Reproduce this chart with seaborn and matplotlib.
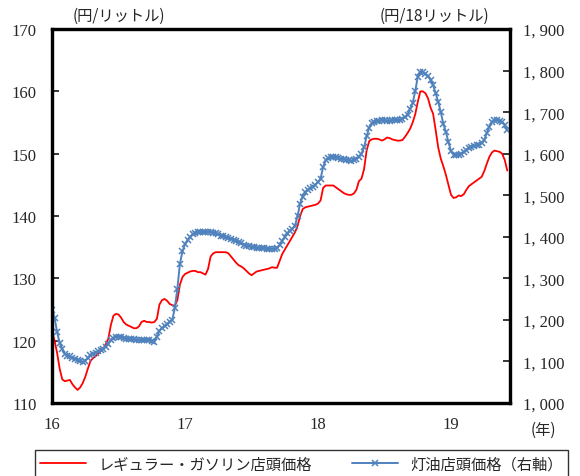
import numpy as np
import pandas as pd
import matplotlib
matplotlib.use("Agg")
import matplotlib.pyplot as plt
import seaborn as sns

sns.set_style("white")
plt.rcParams['font.family'] = ['Liberation Serif', 'DejaVu Serif']

# 週次データ（2016年初～2019年半ば）
gasoline = [
    121.5, 120.0, 118.0, 115.5, 113.8, 113.5, 113.6, 113.7, 113.0, 112.5,
    112.1, 112.5, 113.2, 114.2, 115.5, 116.7, 117.2, 117.5, 117.9, 118.3,
    118.7, 119.4, 120.3, 122.5, 124.0, 124.3, 124.2, 123.7, 123.0, 122.6,
    122.4, 122.2, 122.0, 122.0, 122.3, 123.0, 123.2, 123.0, 123.0, 122.9,
    123.0, 123.5, 125.8, 126.5, 126.7, 126.4, 125.9, 125.7, 125.6, 126.5,
    129.0, 130.2, 130.7, 130.9, 131.1, 131.2, 131.2, 131.0, 131.0, 130.8,
    130.6, 131.5, 133.5, 134.0, 134.2, 134.2, 134.2, 134.2, 134.2, 134.0,
    133.5, 133.0, 132.5, 132.1, 131.9, 131.6, 131.2, 130.8, 130.5, 130.8,
    131.1, 131.2, 131.3, 131.4, 131.5, 131.6, 131.8, 131.7, 131.7, 132.8,
    133.9, 134.6, 135.3, 136.0, 136.7, 137.4, 138.4, 140.0, 141.1, 141.4,
    141.5, 141.6, 141.7, 141.8, 142.0, 142.5, 144.5, 144.9, 144.9, 144.9,
    144.9, 144.6, 144.3, 144.0, 143.7, 143.5, 143.4, 143.4, 143.6, 144.2,
    145.6, 146.0, 147.5, 150.5, 152.0, 152.3, 152.4, 152.4, 152.3, 152.1,
    152.3, 152.6, 152.5, 152.3, 152.2, 152.1, 152.1, 152.2, 152.7, 153.3,
    154.0, 155.0, 156.3, 158.3, 160.0, 160.0, 159.7, 158.9, 157.4, 156.4,
    153.8, 151.0, 149.2, 148.0, 146.6, 145.0, 143.4, 142.9, 143.0, 143.3,
    143.2, 143.5, 144.2, 144.8, 145.1, 145.4, 145.7, 146.0, 146.3, 147.2,
    148.4, 149.5, 150.2, 150.5, 150.4, 150.3, 150.0, 149.0, 147.3,
]
kerosene = [
    1225, 1205, 1170, 1145, 1130, 1118, 1114, 1112, 1108, 1106,
    1103, 1100, 1098, 1102, 1108, 1115, 1119, 1121, 1124, 1127,
    1131, 1136, 1143, 1151, 1156, 1159, 1160, 1160, 1157, 1155,
    1154, 1153, 1153, 1152, 1152, 1152, 1152, 1152, 1151, 1150,
    1148, 1160, 1174, 1180, 1185, 1190, 1195, 1200, 1228, 1275,
    1335, 1365, 1382, 1392, 1400, 1406, 1409, 1411, 1411, 1412,
    1412, 1412, 1412, 1410, 1408, 1406, 1403, 1401, 1399, 1397,
    1395, 1393, 1391, 1388, 1385, 1381, 1379, 1377, 1376, 1375,
    1374, 1373, 1372, 1372, 1371, 1371, 1371, 1371, 1373, 1380,
    1390, 1400, 1408, 1414, 1420, 1427, 1450, 1480, 1497, 1507,
    1513, 1517, 1520, 1525, 1532, 1540, 1568, 1584, 1589, 1591,
    1592, 1591, 1590, 1588, 1587, 1585, 1584, 1583, 1585, 1588,
    1592, 1600, 1615, 1642, 1662, 1673, 1677, 1678, 1679, 1680,
    1680, 1679, 1679, 1680, 1681, 1681, 1681, 1683, 1688, 1694,
    1708, 1722, 1750, 1785, 1797, 1797, 1792, 1787, 1778, 1765,
    1745, 1725, 1700, 1672, 1652, 1628, 1606, 1598, 1597, 1598,
    1599, 1603, 1610, 1614, 1617, 1619, 1621, 1622, 1625, 1633,
    1650, 1665, 1677, 1680, 1680, 1679, 1676, 1670, 1656,
]
year_ticks = [16, 17, 18, 19]
left_ticks = [110, 120, 130, 140, 150, 160, 170]
right_ticks = [1000, 1100, 1200, 1300, 1400, 1500, 1600, 1700, 1800, 1900]

df = pd.DataFrame({
    "year": 16 + np.arange(len(gasoline)) / 52,
    "gasoline": gasoline,
    "kerosene": kerosene,
})

jp = ['Noto Sans CJK JP', 'DejaVu Sans']
num = ['Liberation Serif', 'DejaVu Serif']

fig = plt.figure(figsize=(5.8, 4.77), dpi=100)
ax = fig.add_axes([0.0897, 0.153, 0.7897, 0.784])
ax2 = ax.twinx()

sns.lineplot(data=df, x="year", y="gasoline", ax=ax, color="#FF0000", lw=1.3,
             label="レギュラー・ガソリン店頭価格", legend=False)
sns.lineplot(data=df, x="year", y="kerosene", ax=ax2, color="#4F81BD", lw=1.4,
             marker="x", markersize=4.5, markeredgewidth=1.1, markeredgecolor="#4F81BD",
             label="灯油店頭価格（右軸）", legend=False)

ax.set_xlim(16, 19.444)
ax.set_ylim(110, 170)
ax2.set_ylim(1000, 1900)
ax.set_xticks(year_ticks)
ax.set_xticklabels([str(y) for y in year_ticks])
ax.set_yticks(left_ticks)
ax.set_yticklabels([str(v) for v in left_ticks])
ax2.set_yticks(right_ticks)
ax2.set_yticklabels([f"{v:,}".replace(",", ", ") for v in right_ticks])
ax.set_xlabel("")
ax.set_ylabel("")
ax2.set_ylabel("")

for a in (ax, ax2):
    for s in a.spines.values():
        s.set_linewidth(2.3)
        s.set_color("black")
ax.tick_params(axis="y", direction="in", length=5, width=1.3, pad=11, labelsize=12)
ax.tick_params(axis="x", direction="in", length=4, width=1.0, pad=9, labelsize=12)
ax2.tick_params(axis="y", direction="in", length=5, width=1.3, pad=9, labelsize=12)
for lbl in ax.get_xticklabels() + ax.get_yticklabels() + ax2.get_yticklabels():
    lbl.set_fontfamily(num)

fig.text(0.125, 0.965, "(円/リットル)", fontsize=11, family=jp, va="center")
fig.text(0.655, 0.965, "(円/18リットル)", fontsize=11, family=jp, va="center")
fig.text(0.915, 0.098, "(年)", fontsize=11, family=jp, va="center")

handles = [ax.lines[0], ax2.lines[0]]
leg = fig.legend(handles, [h.get_label() for h in handles], loc="lower left",
                 bbox_to_anchor=(0.047, -0.0205, 0.945, 0.07), mode="expand",
                 ncol=2, frameon=True, fancybox=False, edgecolor="black",
                 handlelength=3.0, borderpad=0.35, prop={"family": jp, "size": 11})
leg.get_frame().set_linewidth(1.0)

fig.savefig("out.png", dpi=100)
